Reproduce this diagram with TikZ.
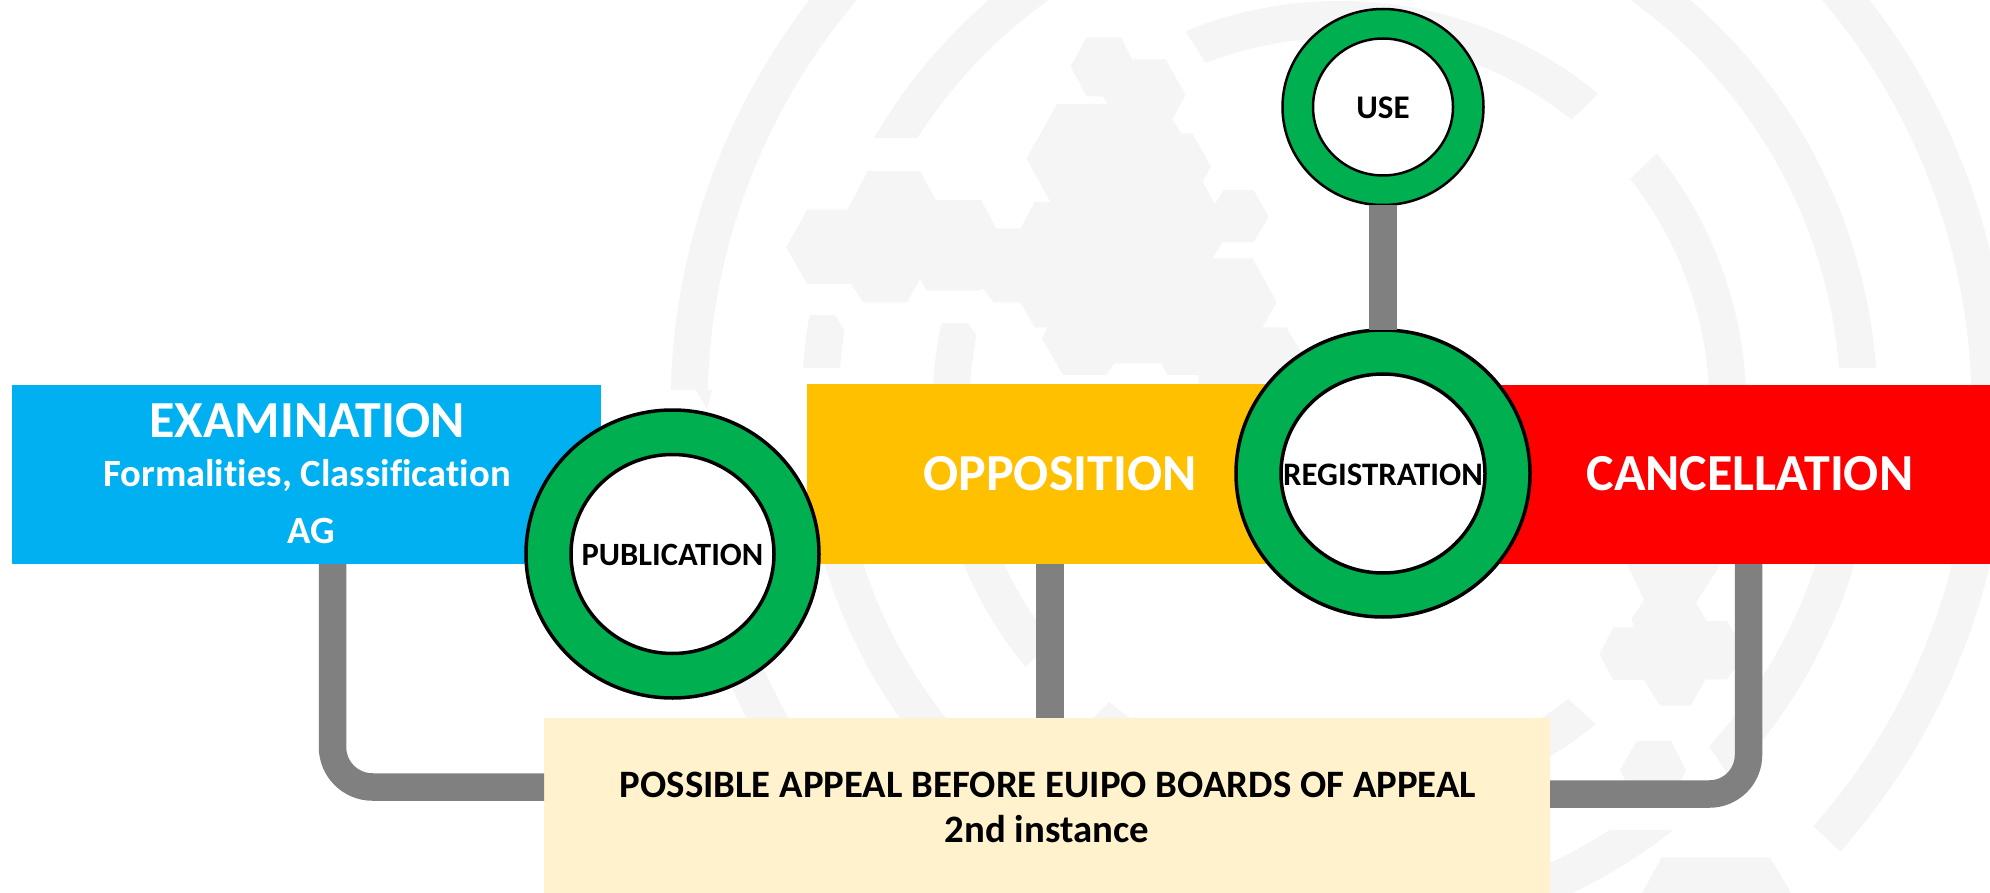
\documentclass[tikz,border=0pt]{standalone}
\usepackage{fontspec}
\setmainfont{Carlito}[Ligatures=NoCommon]
\usetikzlibrary{shapes.geometric}
\definecolor{wmark}{HTML}{F5F5F5}
\definecolor{cblue}{HTML}{00B0F0}
\definecolor{cyellow}{HTML}{FFC000}
\definecolor{cred}{HTML}{FF0000}
\definecolor{cgreen}{HTML}{00B050}
\definecolor{ccream}{HTML}{FFF2CC}
\definecolor{cgrey}{HTML}{808080}
\newcommand{\ringpiece}[3]{%
  \begin{scope}
    \clip #3;
    \fill[wmark,even odd rule] (1339.5,408) circle[radius=#2pt] (1339.5,408) circle[radius=#1pt];
  \end{scope}}
\tikzset{
  box/.style={rectangle,draw=none,inner sep=0pt,outer sep=0pt},
  ringo/.style={ellipse,fill=cgreen,draw=black,inner sep=0pt,outer sep=0pt},
  ringi/.style={ellipse,fill=white,draw=black,inner sep=0pt,outer sep=0pt},
  conn/.style={draw=cgrey,line width=27.5pt,line cap=butt},
  lab/.style={anchor=base,inner sep=0pt,font=\bfseries\fontsize{#1}{#1}\selectfont},
  wlab/.style={lab=#1,text=white},
  klab/.style={lab=#1,text=black}
}
\begin{document}
\begin{tikzpicture}[x=1pt,y=-1pt]
\useasboundingbox (0,0) rectangle (1990,893);
% watermark
\begin{scope}
\clip (0,0) rectangle (1990,893);
% ring 1
\ringpiece{632}{669}{(0,-5) -- (1995,-5) -- (1995,898) -- (1891,898) -- (1700,722) -- (1700,390) -- (0,390) -- cycle}
\fill[wmark] (696,390) -- (707,409) -- (712,390) -- cycle;
\ringpiece{632}{669}{(600,600) rectangle (960,898)}
% ring 2
\ringpiece{501}{538}{(700,-5) rectangle (1339.5,138)}
\ringpiece{501}{538}{(1339.5,-5) rectangle (1995,368)}
\ringpiece{501}{538}{(810,315) -- (835,315) -- (845,332) -- (860,368) -- (790,368) -- cycle}
\ringpiece{501}{538}{(700,500) rectangle (1339.5,898)}
\ringpiece{501}{538}{(1339.5,830) rectangle (1700,898)}
\ringpiece{501}{538}{(1690,718) -- (1760,822) -- (1995,822) -- (1995,450) -- (1690,450) -- cycle}
% ring 3
\ringpiece{370}{407}{(1162,-5) -- (1640,-5) -- (1640,54) -- (1500,188) -- (1250,131) -- cycle}
\ringpiece{370}{407}{(1680,131) -- (1800,131) -- (1800,390) -- (1600,390) -- (1600,208) -- cycle}
\ringpiece{370}{407}{(942,323) -- (968,323) -- (976,335) -- (990,390) -- (920,390) -- cycle}
\ringpiece{370}{407}{(900,500) -- (1100,500) -- (1100,598) -- (1000,690) -- (900,690) -- cycle}
\ringpiece{370}{407}{(1500,636) -- (1640,765) -- (1640,898) -- (1300,898) -- (1300,636) -- cycle}
\fill[wmark] (1093,718) -- (1109,702) -- (1130,718) -- cycle;
% hexagon cluster, upper
\fill[wmark,shift={(650,0)},x=0.4464pt,y=-0.3333pt]
  (978,112) -- (1055,112) -- (1080,178) -- (1155,178) -- (1200,285) -- (1170,358) -- (1190,400) -- (1215,400)
  -- (1257,500) -- (1238,545) -- (1265,612) -- (1285,570) -- (1352,570) -- (1386,650) -- (1352,727) -- (1282,727)
  -- (1260,775) -- (1350,775) -- (1404,907) -- (1372,982) -- (1425,982) -- (1470,1080) -- (1500,1160) -- (1230,1160)
  -- (1228,1125) -- (1160,1125) -- (1145,1090) -- (1040,1090) -- (1022,1125) -- (925,1125) -- (878,1015) -- (890,982)
  -- (862,982) -- (830,907) -- (770,907) -- (745,865) -- (740,872) -- (620,872) -- (605,838) -- (575,907) -- (478,907)
  -- (450,852) -- (352,852) -- (305,742) -- (352,629) -- (442,629) -- (488,513) -- (605,513) -- (640,600) -- (742,600)
  -- (775,685) -- (830,685) -- (862,606) -- (897,606) -- (843,475) -- (912,312) -- (1025,312) -- (1015,290) -- (978,288)
  -- (942,200) -- cycle;
% hexagons, lower right
\fill[wmark,shift={(1560,550)},x=0.3333pt,y=-0.3333pt]
  (195,30) -- (490,30) -- (408,158) -- (440,213) -- (500,213) -- (530,260) -- (530,350) -- (500,388) -- (437,388)
  -- (392,467) -- (300,467) -- (252,390) -- (160,390) -- (118,312) -- (160,232) -- (222,232) -- (215,205) -- (252,150) -- cycle;
\fill[wmark,shift={(1560,550)},x=0.3333pt,y=-0.3333pt]
  (180,660) -- (230,573) -- (333,573) -- (378,660) -- (360,700) -- (200,700) -- cycle;
\fill[wmark,shift={(1560,550)},x=0.3333pt,y=-0.3333pt]
  (305,922) -- (630,922) -- (700,1040) -- (240,1040) -- cycle;
\end{scope}
% boxes
\node[box,fill=cblue,minimum width=589pt,minimum height=179.5pt] (exam) at (306.5,474.5) {};
\node[box,fill=cyellow,minimum width=486pt,minimum height=180pt] (opp) at (1050,474) {};
\node[box,fill=cred,minimum width=510pt,minimum height=179.5pt] (canc) at (1735,474.5) {};
\node[box,fill=ccream,minimum width=1006pt,minimum height=175pt] (appeal) at (1047,805.5) {};
% rings
\node[ringo,line width=3.5pt,minimum width=293pt,minimum height=288pt] (pub) at (672.5,554) {};
\node[ringi,line width=3.5pt,minimum width=203pt,minimum height=199pt] (pubi) at (pub.center) {};
\node[ringo,line width=3.5pt,minimum width=294pt,minimum height=287pt] (reg) at (1383,473.5) {};
\node[ringi,line width=3.5pt,minimum width=204pt,minimum height=199pt] (regi) at (reg.center) {};
\node[ringo,line width=2.5pt,minimum width=201pt,minimum height=196pt] (use) at (1383,107) {};
\node[ringi,line width=2.5pt,minimum width=140pt,minimum height=137pt] (usei) at (use.center) {};
% connectors
\coordinate (examout) at (332.5,564);
\coordinate (appealL) at (544,787);
\coordinate (cancout) at (1748.5,564);
\coordinate (appealR) at (1550,794);
\draw[conn,rounded corners=40pt] (examout) |- (appealL);
\draw[conn,rounded corners=39pt] (cancout) |- (appealR);
\draw[conn,line width=28pt] (opp.south) -- (opp.south |- appeal.north);
\draw[conn,line width=28pt] (use.south) -- (reg.north);
% labels
\node[wlab=52] (t1) at (307,437.5) {EXAMINATION};
\node[wlab=38.6] (t2) at (307,486.5) {Formalities, Classification};
\node[wlab=38.6] (t3) at (311,543) {AG};
\node[wlab=52] (t4) at (1060,490) {OPPOSITION};
\node[wlab=52] (t5) at (1750,490) {CANCELLATION};
\node[klab=32.5] (t6) at (672.5,565) {PUBLICATION};
\node[klab=32.8] (t7) at (1383,485) {REGISTRATION};
\node[klab=33] (t8) at (1383,119) {USE};
\node[klab=38.8] (t9) at (1048,797.5) {POSSIBLE APPEAL BEFORE EUIPO BOARDS OF APPEAL};
\node[klab=38.8] (t10) at (1047,842.5) {2nd instance};
\end{tikzpicture}
\end{document}
